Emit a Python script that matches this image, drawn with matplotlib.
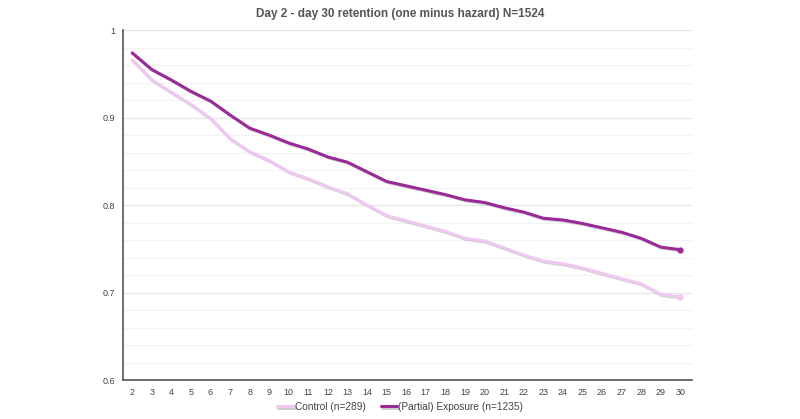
import numpy as np
import matplotlib.pyplot as plt
import matplotlib.patheffects as pe

plt.rcParams['font.family'] = ['Liberation Sans', 'DejaVu Sans']

# days since install
days = list(range(2, 31))

# retention (one minus hazard)
control = [0.966, 0.943, 0.929, 0.915, 0.899, 0.876, 0.861, 0.851, 0.838, 0.830,
           0.821, 0.813, 0.800, 0.788, 0.782, 0.776, 0.770, 0.762, 0.759, 0.751,
           0.743, 0.736, 0.733, 0.728, 0.722, 0.716, 0.710, 0.698, 0.695]
exposure = [0.974, 0.955, 0.943, 0.930, 0.919, 0.903, 0.888, 0.880, 0.871, 0.864,
            0.855, 0.849, 0.838, 0.827, 0.822, 0.817, 0.812, 0.806, 0.803, 0.797,
            0.792, 0.785, 0.783, 0.779, 0.774, 0.769, 0.762, 0.752, 0.749]

labels = ['Control (n=289)', '(Partial) Exposure (n=1235)']
colors = ['#efc8ef', '#9a2a98']

fig = plt.figure(figsize=(8, 4.19), dpi=100)
ax = fig.add_axes([0.154, 0.093, 0.711, 0.835])

# soft drop shadow under each line
shadow = [pe.SimpleLineShadow(offset=(0.8, -0.8), shadow_color='#777777', alpha=0.35), pe.Normal()]
for vals, lab, col in zip([control, exposure], labels, colors):
    ax.plot(days, vals, color=col, lw=2.2, label=lab, path_effects=shadow, solid_capstyle='round')
    ax.plot(days[-1:], vals[-1:], 'o', color=col, ms=3.5)

ax.set_xlim(1.54, 30.6)
ax.set_ylim(0.6, 1.0)
ax.set_xticks(days)
ax.set_yticks([0.6, 0.7, 0.8, 0.9, 1.0])
ax.set_yticklabels(['0.6', '0.7', '0.8', '0.9', '1'])
ax.set_yticks(np.arange(0.62, 1.0, 0.02), minor=True)
ax.tick_params(axis='both', length=0, labelsize=6.5, colors='#444444', pad=6)
ax.tick_params(axis='y', which='minor', length=0)
ax.grid(axis='y', which='major', color='#e6e6e6', lw=0.9)
ax.grid(axis='y', which='minor', color='#f3f3f3', lw=0.8)
ax.set_axisbelow(True)

for s in ['top', 'right']:
    ax.spines[s].set_visible(False)
for s in ['left', 'bottom']:
    ax.spines[s].set_color('#555555')
    ax.spines[s].set_linewidth(1.2)

fig.suptitle('Day 2 - day 30 retention (one minus hazard) N=1524', x=0.5, y=0.98,
             fontsize=8.5, fontweight='bold', color='#555555')

fig.legend(loc='lower center', bbox_to_anchor=(0.5, -0.005), ncol=2, frameon=False,
           fontsize=7.3, handlelength=1.6, handletextpad=0.1, columnspacing=1.5,
           labelcolor='#444444')

fig.savefig('out.png', dpi=100, facecolor='white')
